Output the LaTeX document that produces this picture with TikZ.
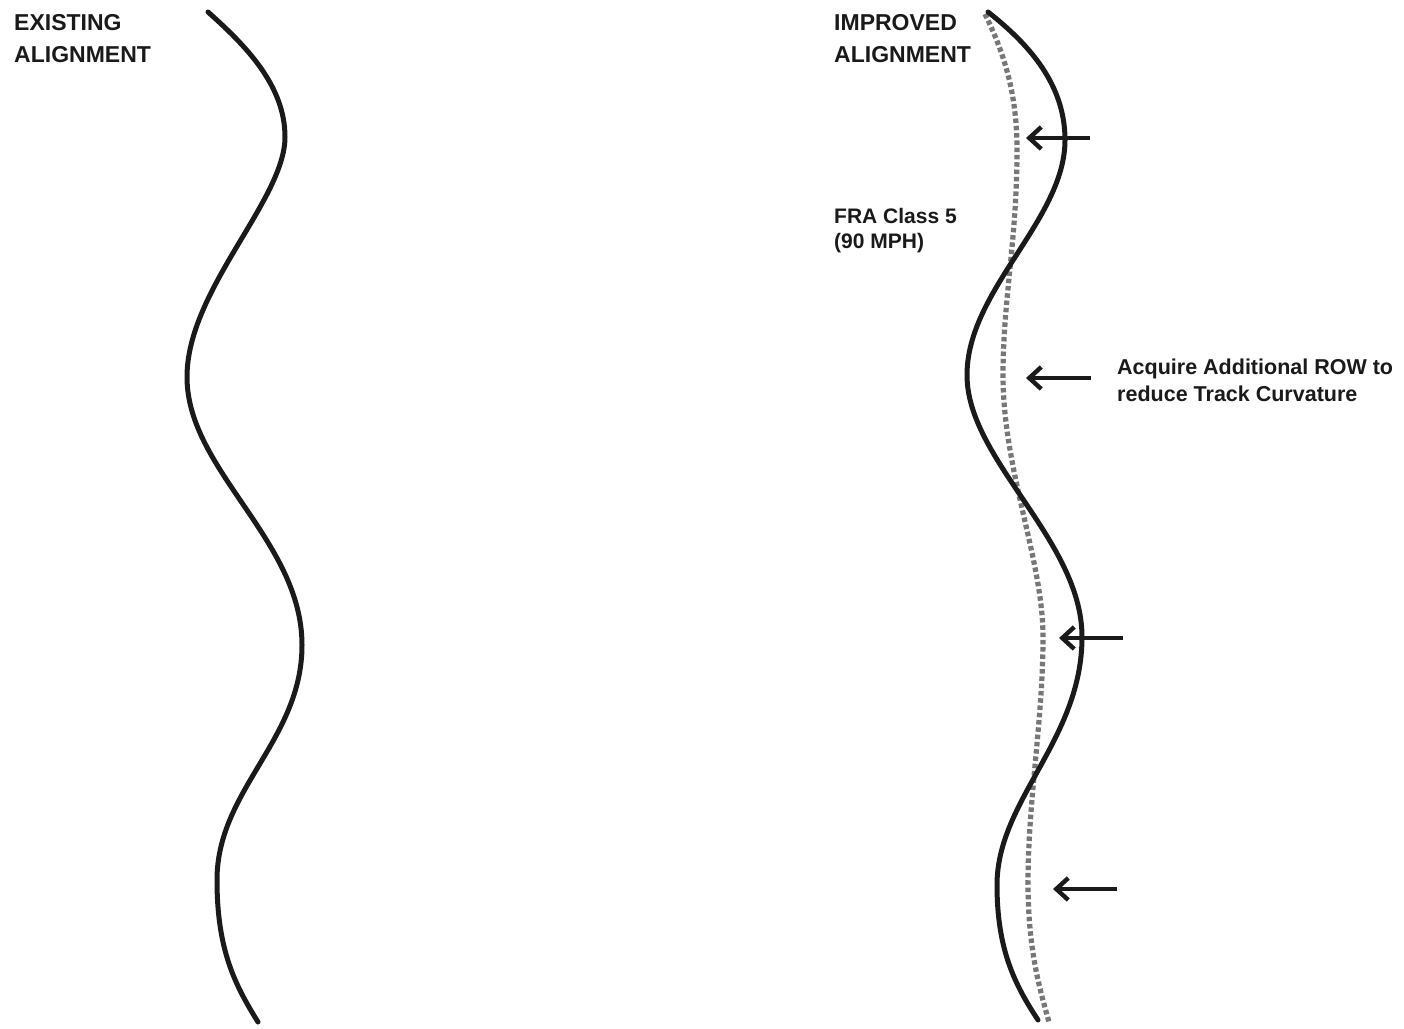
\documentclass[tikz,border=0pt]{standalone}
\usepackage{fontspec}
\setmainfont{Liberation Sans}
\usetikzlibrary{arrows.meta}
\definecolor{trk}{HTML}{1A1A1A}
\definecolor{dots}{HTML}{777777}
\tikzset{
  track/.style={draw=trk, line width=5pt, line cap=round},
  newtrack/.style={draw=dots, line width=5.2pt, dash pattern=on 4.5pt off 2.8pt},
  shift arrow/.style={draw=trk, line width=4.4pt, -{Straight Barb[length=12pt,width=22pt]}},
  head/.style={anchor=base west, align=left, inner sep=0pt, font=\fontsize{23}{32}\selectfont\bfseries, text=trk},
  note/.style={anchor=base west, align=left, inner sep=0pt, text=trk},
}
\begin{document}
\begin{tikzpicture}[x=1pt,y=-1pt]
\useasboundingbox (0,0) rectangle (1404,1028);
% labels (anchored at the baseline of their last line)
\node[head] (lh) at (14,62) {EXISTING\\ALIGNMENT};
\node[head] (rh) at (834,62) {IMPROVED\\ALIGNMENT};
\node[note, font=\fontsize{21}{25}\selectfont\bfseries] (fra) at (834,248) {FRA Class 5\\(90 MPH)};
\node[note, font=\fontsize{21.5}{27}\selectfont\bfseries] (acq) at (1117,401) {Acquire Additional ROW to\\reduce Track Curvature};
% existing alignment
\path[track] (208,12) .. controls (245,45) and (285,85) .. (285,137)
  .. controls (285,200) and (187,290) .. (187,377)
  .. controls (187,470) and (302,540) .. (302,645)
  .. controls (302,740) and (217,790) .. (217,880)
  .. controls (217,950) and (235,985) .. (258,1022);
% improved alignment (dotted)
\path[newtrack] (985,14) .. controls (1005,55) and (1017,95) .. (1017,150)
  .. controls (1017,240) and (1003,300) .. (1003,375)
  .. controls (1003,470) and (1043,560) .. (1043,637)
  .. controls (1043,720) and (1028,800) .. (1028,883)
  .. controls (1028,950) and (1040,990) .. (1049,1022);
% existing track on right
\path[track] (988,12) .. controls (1030,45) and (1065,85) .. (1065,140)
  .. controls (1065,220) and (967,290) .. (967,375)
  .. controls (967,460) and (1082,540) .. (1082,637)
  .. controls (1082,740) and (997,800) .. (997,885)
  .. controls (997,950) and (1015,985) .. (1038,1020);
% arrows
\coordinate (a1s) at (1090,138); \coordinate (a1e) at (1026,138);
\coordinate (a2s) at (1091,378); \coordinate (a2e) at (1026,378);
\coordinate (a3s) at (1123,638); \coordinate (a3e) at (1059,638);
\coordinate (a4s) at (1117,889); \coordinate (a4e) at (1053,889);
\draw[shift arrow] (a1s) -- (a1e);
\draw[shift arrow] (a2s) -- (a2e);
\draw[shift arrow] (a3s) -- (a3e);
\draw[shift arrow] (a4s) -- (a4e);
\end{tikzpicture}
\end{document}
